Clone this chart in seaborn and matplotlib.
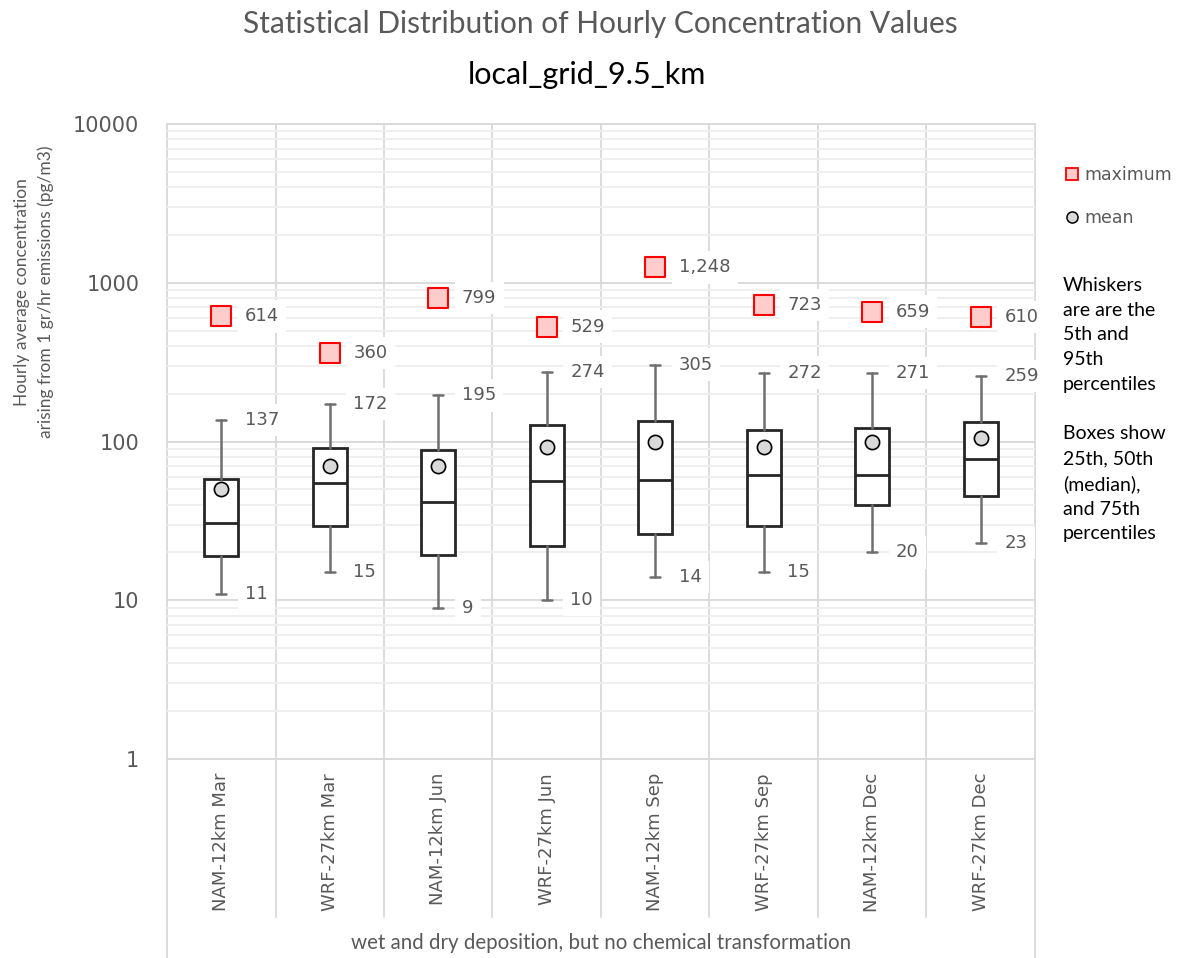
import numpy as np
import pandas as pd
import matplotlib
matplotlib.use("Agg")
import matplotlib.pyplot as plt
import matplotlib.ticker as mticker
import matplotlib.transforms as mtransforms
from matplotlib.lines import Line2D
import seaborn as sns

# ---- data -------------------------------------------------------------
categories = ["NAM-12km Mar", "WRF-27km Mar", "NAM-12km Jun", "WRF-27km Jun",
              "NAM-12km Sep", "WRF-27km Sep", "NAM-12km Dec", "WRF-27km Dec"]
p05 = [11, 15, 9, 10, 14, 15, 20, 23]
p25 = [19.1, 29.5, 19.4, 22.1, 26.1, 29.2, 39.8, 45.1]
p50 = [30.8, 54.8, 41.8, 56.0, 56.8, 61.8, 61.8, 77.6]
p75 = [58.0, 90.6, 88.8, 127.0, 135.0, 118.6, 121.0, 132.0]
p95 = [137, 172, 195, 274, 305, 272, 271, 259]
means = [50.2, 70.1, 70.0, 92.5, 100.0, 92.5, 100.0, 105.0]
maxima = [614, 360, 799, 529, 1248, 723, 659, 610]
y_ticks = [1, 10, 100, 1000, 10000]

title = "Statistical Distribution of Hourly Concentration Values"
subtitle = "local_grid_9.5_km"
y_label = "Hourly average concentration\narising from 1 gr/hr emissions (pg/m3)"
group_label = "wet and dry deposition, but no chemical transformation"
legend_labels = ["maximum", "mean"]
notes = ("Whiskers\nare are the\n5th and\n95th\npercentiles\n\n"
         "Boxes show\n25th, 50th\n(median),\nand 75th\npercentiles")

# ---- style ------------------------------------------------------------
sns.set_theme(style="white")
plt.rcParams["font.family"] = ["Lato", "DejaVu Sans"]

GREY_TXT = "#595959"
GRID_MAJ = "#d9d9d9"
GRID_MIN = "#efefef"

W, H = 1180, 958
fig = plt.figure(figsize=(W / 100, H / 100), dpi=100)
fx = lambda x: x / W
fy = lambda y: 1 - y / H

ax_l, ax_r, ax_t, ax_b = 167, 1035, 124, 759
ax = fig.add_axes([fx(ax_l), fy(ax_b), (ax_r - ax_l) / W, (ax_b - ax_t) / H])

df = pd.DataFrame({
    "category": categories,
    "pos": np.arange(len(categories)),
    "mean": means,
    "maximum": maxima,
})

ax.set_yscale("log")

# boxes and whiskers from the percentile table
stats = [dict(label=c, whislo=lo, q1=a, med=m, q3=b, whishi=hi)
         for c, lo, a, m, b, hi in zip(categories, p05, p25, p50, p75, p95)]
ax.bxp(stats, positions=df["pos"], widths=0.31, capwidths=0.09,
       showfliers=False, patch_artist=True, manage_ticks=False,
       boxprops=dict(facecolor="white", edgecolor="#262626", linewidth=2),
       whiskerprops=dict(color="#6f6f6f", linewidth=1.8),
       capprops=dict(color="#6f6f6f", linewidth=1.8),
       medianprops=dict(color="#262626", linewidth=2),
       zorder=3)

# maximum and mean markers
sns.scatterplot(data=df, x="pos", y="maximum", marker="s", s=200,
                color="#ffcccc", edgecolor="#ff0000", linewidth=1.5,
                ax=ax, zorder=4, legend=False)
sns.scatterplot(data=df, x="pos", y="mean", marker="o", s=105,
                color="#d9d9d9", edgecolor="#000000", linewidth=1.2,
                ax=ax, zorder=4, legend=False)

# value labels beside the markers
lbl_kw = dict(xytext=(17, 0), textcoords="offset points", ha="left",
              va="center", fontsize=13, color=GREY_TXT,
              family="DejaVu Sans", zorder=2,
              bbox=dict(boxstyle="square,pad=0.4", fc="white", ec="none"))
for p, lo, hi, mx in zip(df["pos"], p05, p95, maxima):
    ax.annotate(f"{mx:,}", (p, mx), **lbl_kw)
    ax.annotate(f"{hi:,}", (p, hi), **lbl_kw)
    ax.annotate(f"{lo:,}", (p, lo), **lbl_kw)

# axes, ticks, grid
ax.set_xlim(-0.5, len(categories) - 0.5)
ax.set_ylim(y_ticks[0], y_ticks[-1])
ax.set_xlabel("")
ax.set_ylabel("")
ax.yaxis.set_major_locator(mticker.FixedLocator(y_ticks))
ax.yaxis.set_major_formatter(mticker.FixedFormatter([str(t) for t in y_ticks]))
ax.yaxis.set_minor_locator(mticker.LogLocator(base=10, subs=np.arange(2, 10)))
ax.yaxis.set_minor_formatter(mticker.NullFormatter())
ax.tick_params(axis="y", which="both", length=0, pad=20, labelsize=15,
               labelcolor=GREY_TXT)
for t in ax.get_yticklabels():
    t.set_family("DejaVu Sans")
ax.set_xticks(df["pos"])
ax.set_xticklabels(categories, rotation=90, family="DejaVu Sans",
                   fontsize=13, color=GREY_TXT)
ax.tick_params(axis="x", length=0, pad=10)

ax.yaxis.grid(True, which="minor", color=GRID_MIN, linewidth=1.4, zorder=0)
ax.yaxis.grid(True, which="major", color=GRID_MAJ, linewidth=1.3, zorder=0)
ax.xaxis.grid(False)
ax.set_axisbelow(True)
for name, sp in ax.spines.items():
    sp.set_visible(name in ("top", "bottom"))
    sp.set_color(GRID_MAJ)
    sp.set_linewidth(1.3)

# category separators, running down through the label band
trans = mtransforms.blended_transform_factory(ax.transData, ax.transAxes)
inner_bottom = -(917 - ax_b) / (ax_b - ax_t)
outer_bottom = -(958 - ax_b) / (ax_b - ax_t)
edges = np.arange(len(categories) + 1) - 0.5
for i, e in enumerate(edges):
    lo = outer_bottom if i in (0, len(edges) - 1) else inner_bottom
    ax.add_line(Line2D([e, e], [lo, 1], transform=trans, color=GRID_MAJ,
                       linewidth=1.3, clip_on=False, zorder=0.5))

# titles and side texts
fig.text(fx(600), fy(24), title, ha="center", va="center", fontsize=21.5,
         color=GREY_TXT)
fig.text(fx(587), fy(75), subtitle, ha="center", va="center", fontsize=22,
         color="black")
fig.text(fx(34), fy(292), y_label, ha="center", va="center", rotation=90,
         fontsize=12.5, color=GREY_TXT, linespacing=1.55, multialignment="center")
fig.text(fx(601), fy(943), group_label, ha="center", va="center",
         fontsize=14.8, color=GREY_TXT)

handles = [Line2D([], [], ls="none", marker="s", markersize=9,
                  markerfacecolor="#ffcccc", markeredgecolor="#ff0000",
                  markeredgewidth=1.3),
           Line2D([], [], ls="none", marker="o", markersize=8,
                  markerfacecolor="#d9d9d9", markeredgecolor="#000000",
                  markeredgewidth=1.1)]
fig.legend(handles, legend_labels, loc="upper left",
           bbox_to_anchor=(fx(1065), fy(166)), frameon=False,
           prop=dict(family="DejaVu Sans", size=12.5), labelcolor=GREY_TXT,
           handlelength=0.8, handletextpad=0.3, labelspacing=1.45,
           borderaxespad=0, borderpad=0)

fig.text(fx(1063), fy(277), notes, ha="left", va="top", fontsize=14,
         color="black", linespacing=1.55)

fig.savefig("out.png", dpi=100)
